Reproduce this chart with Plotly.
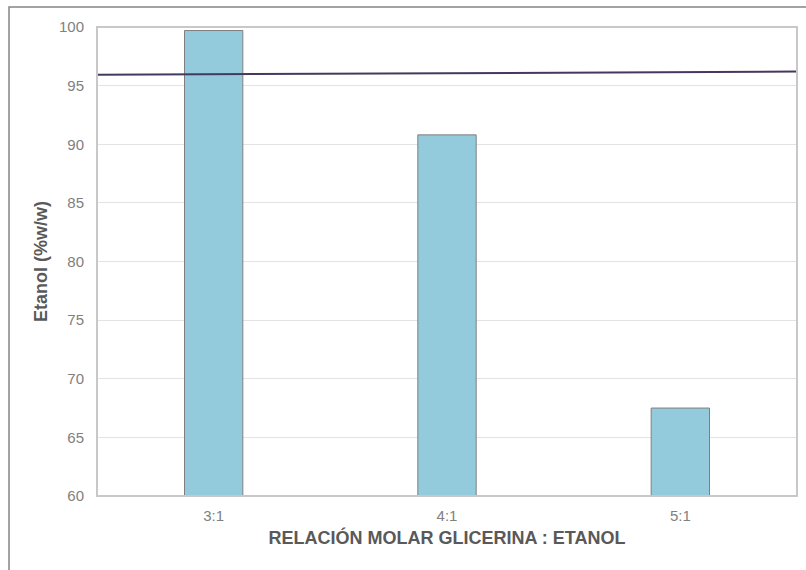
import plotly.graph_objects as go

# Data
ratios = ["3:1", "4:1", "5:1"]
etanol = [99.7, 90.8, 67.5]
# reference line: value at the left and right edges of the plot
ref_line = [95.92, 96.20]

y_ticks = [60, 65, 70, 75, 80, 85, 90, 95, 100]

pos = list(range(len(ratios)))
x_range = [-0.5, len(ratios) - 0.5]

fig = go.Figure()
fig.add_trace(go.Bar(
    x=pos, y=[v - 60 for v in etanol], base=60,
    width=0.25,
    marker=dict(color="#93CBDD", line=dict(color="#7F7F7F", width=1)),
    showlegend=False, hoverinfo="skip",
))
fig.add_trace(go.Scatter(
    x=x_range, y=ref_line, mode="lines",
    line=dict(color="#44385E", width=2),
    showlegend=False, hoverinfo="skip",
))

fig.update_layout(
    width=806, height=570,
    margin=dict(l=97, r=9, t=27, b=74),
    paper_bgcolor="white", plot_bgcolor="white",
    font=dict(family="Liberation Sans, Arial, sans-serif", color="#808080", size=15),
    xaxis=dict(
        range=x_range, tickmode="array", tickvals=pos, ticktext=ratios,
        showgrid=False, zeroline=False, showline=False,
        ticks="", ticklabelstandoff=9,
        title=dict(text="<b>RELACIÓN MOLAR GLICERINA : ETANOL</b>",
                   font=dict(size=18, color="#595959"), standoff=8),
    ),
    yaxis=dict(
        range=[60, 100], tickvals=y_ticks,
        showgrid=True, gridcolor="#E3E3E3", gridwidth=1,
        zeroline=False, showline=False, ticks="", ticklabelstandoff=12,
        title=dict(text="<b>Etanol (%w/w)</b>",
                   font=dict(size=18, color="#595959"), standoff=6),
    ),
    shapes=[
        # plot area frame
        dict(type="rect", xref="paper", yref="paper", x0=0, x1=1, y0=0, y1=1,
             line=dict(color="#C8C8C8", width=2), layer="above"),
        # outer chart frame
        dict(type="rect", xref="paper", yref="paper",
             x0=-0.1257, x1=1.06, y0=-0.2, y1=1.0426,
             line=dict(color="#858585", width=1.5), layer="above"),
    ],
)

fig.write_html("out.html")
